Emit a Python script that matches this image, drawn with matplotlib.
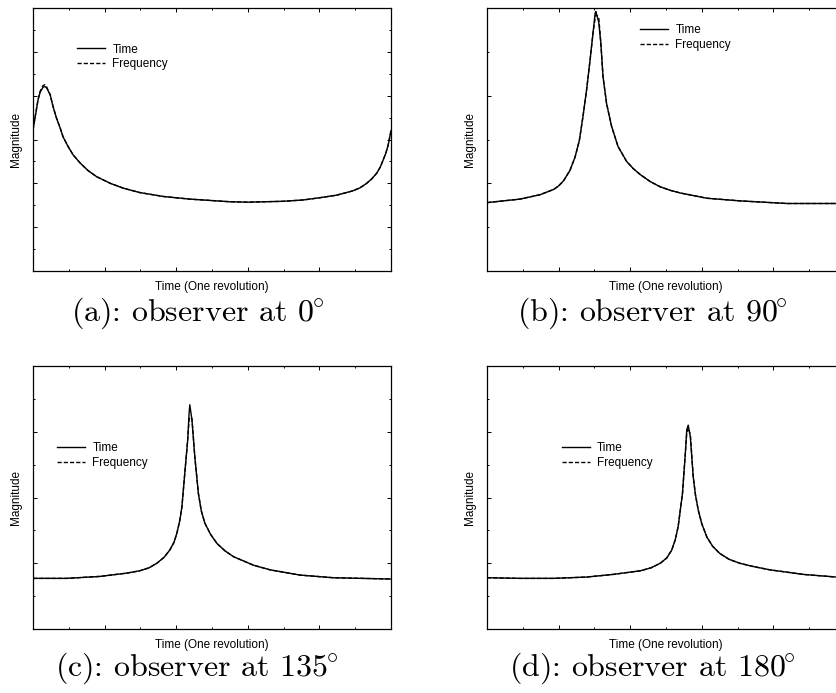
import matplotlib
matplotlib.use("Agg")
import matplotlib.pyplot as plt
from matplotlib.ticker import MultipleLocator

plt.rcParams['font.family'] = ['Liberation Sans', 'DejaVu Sans']
plt.rcParams['mathtext.fontset'] = 'cm'

# values (x: one revolution, 0..5 ; y: magnitude)
x_a = [0.00, 0.07, 0.10, 0.14, 0.165, 0.19, 0.24, 0.28, 0.33, 0.38, 0.42, 0.49, 0.56, 0.66, 0.77,
       0.89, 1.08, 1.26, 1.49, 1.82, 2.19, 2.75, 3.00, 3.49, 3.77, 4.00, 4.24, 4.47, 4.57, 4.66,
       4.73, 4.80, 4.85, 4.89, 4.93, 4.96, 5.00]
time_a = [3.22, 3.90, 4.08, 4.19, 4.21, 4.18, 4.02, 3.75, 3.48, 3.26, 3.06, 2.84, 2.65, 2.46, 2.29,
          2.15, 2.00, 1.89, 1.79, 1.70, 1.64, 1.58, 1.57, 1.59, 1.62, 1.67, 1.73, 1.83, 1.90, 2.00,
          2.10, 2.23, 2.37, 2.53, 2.70, 2.87, 3.20]
freq_a = [3.22, 3.91, 4.10, 4.23, 4.25, 4.20, 4.02, 3.75, 3.48, 3.26, 3.06, 2.84, 2.65, 2.46, 2.29,
          2.15, 2.00, 1.89, 1.79, 1.70, 1.64, 1.58, 1.57, 1.59, 1.62, 1.67, 1.73, 1.83, 1.90, 2.00,
          2.10, 2.23, 2.37, 2.53, 2.70, 2.87, 3.20]

x_b = [0.00, 0.23, 0.46, 0.74, 0.93, 1.00, 1.07, 1.16, 1.23, 1.29, 1.34, 1.39, 1.44, 1.48, 1.51,
       1.52, 1.56, 1.59, 1.62, 1.67, 1.74, 1.83, 1.95, 2.04, 2.14, 2.28, 2.42, 2.56, 2.70, 3.07,
       3.53, 4.19, 4.88, 5.00]
time_b = [0.78, 0.80, 0.82, 0.87, 0.93, 0.97, 1.03, 1.15, 1.30, 1.49, 1.76, 2.06, 2.41, 2.71, 2.94,
          2.96, 2.84, 2.60, 2.22, 1.91, 1.65, 1.42, 1.25, 1.17, 1.10, 1.02, 0.96, 0.92, 0.89, 0.83,
          0.80, 0.77, 0.77, 0.77]
freq_b = [0.78, 0.80, 0.82, 0.87, 0.93, 0.97, 1.03, 1.15, 1.30, 1.49, 1.76, 2.06, 2.41, 2.71, 2.88,
          2.92, 2.90, 2.60, 2.22, 1.91, 1.65, 1.42, 1.25, 1.17, 1.10, 1.02, 0.96, 0.92, 0.89, 0.83,
          0.80, 0.77, 0.77, 0.77]

x_c = [0.00, 0.47, 0.94, 1.31, 1.49, 1.62, 1.73, 1.83, 1.91, 1.97, 2.01, 2.05, 2.08, 2.12, 2.16,
       2.18, 2.19, 2.22, 2.26, 2.31, 2.35, 2.40, 2.48, 2.57, 2.68, 2.80, 3.08, 3.31, 3.73, 4.19, 5.00]
time_c = [0.77, 0.77, 0.80, 0.85, 0.885, 0.93, 1.00, 1.09, 1.20, 1.32, 1.46, 1.65, 1.86, 2.37, 2.87,
          3.28, 3.41, 3.18, 2.62, 2.06, 1.80, 1.61, 1.44, 1.30, 1.19, 1.10, 0.97, 0.90, 0.82, 0.78, 0.76]
freq_c = [0.77, 0.77, 0.80, 0.85, 0.885, 0.93, 1.00, 1.09, 1.20, 1.32, 1.46, 1.65, 1.86, 2.37, 2.87,
          3.18, 3.22, 3.20, 2.62, 2.06, 1.80, 1.61, 1.44, 1.30, 1.19, 1.10, 0.97, 0.90, 0.82, 0.78, 0.76]

x_d = [0.00, 0.46, 0.93, 1.39, 1.76, 2.14, 2.29, 2.42, 2.51, 2.58, 2.63, 2.67, 2.73, 2.77, 2.79,
       2.81, 2.84, 2.88, 2.91, 2.95, 3.00, 3.07, 3.15, 3.25, 3.38, 3.53, 3.72, 3.95, 4.42, 4.88, 5.00]
time_d = [0.78, 0.77, 0.77, 0.79, 0.83, 0.885, 0.93, 1.00, 1.08, 1.20, 1.36, 1.56, 2.06, 2.67, 3.03,
          3.10, 2.92, 2.32, 2.05, 1.81, 1.60, 1.40, 1.26, 1.15, 1.06, 1.00, 0.95, 0.90, 0.83, 0.79, 0.78]
freq_d = [0.78, 0.77, 0.77, 0.79, 0.83, 0.885, 0.93, 1.00, 1.08, 1.20, 1.36, 1.56, 2.06, 2.67, 2.98,
          3.06, 2.96, 2.32, 2.05, 1.81, 1.60, 1.40, 1.26, 1.15, 1.06, 1.00, 0.95, 0.90, 0.83, 0.79, 0.78]

captions = [r"(a): observer at $0^{\!\!\circ}$", r"(b): observer at $90^{\!\!\circ}$",
            r"(c): observer at $135^{\!\!\circ}$", r"(d): observer at $180^{\!\!\circ}$"]
y_tops = [6, 3, 4, 4]

W, H = 837.0, 693.0
fig = plt.figure(figsize=(W / 100, H / 100), dpi=100)

# axes boxes in pixels: left, top
boxes = [(33, 8), (487, 8), (33, 366), (487, 366)]
aw, ah = 358.0, 263.0
legend_pos = [(0.123, 0.865), (0.427, 0.94), (0.067, 0.712), (0.209, 0.712)]
caption_pos = [(198, 313), (652, 313), (197, 668), (652, 668)]

panels = [(x_a, time_a, freq_a), (x_b, time_b, freq_b), (x_c, time_c, freq_c), (x_d, time_d, freq_d)]

for i in range(4):
    left, top = boxes[i]
    ax = fig.add_axes([left / W, (H - top - ah) / H, aw / W, ah / H])
    xs, t, f = panels[i]
    ax.plot(xs, t, color='black', lw=1.0, label='Time')
    ax.plot(xs, f, color='black', lw=1.0, dashes=(3, 1.5), label='Frequency')
    ax.set_xlim(0, 5)
    ax.set_ylim(0, y_tops[i])
    ax.xaxis.set_major_locator(MultipleLocator(1))
    ax.xaxis.set_minor_locator(MultipleLocator(0.5))
    ax.yaxis.set_major_locator(MultipleLocator(1))
    ax.yaxis.set_minor_locator(MultipleLocator(0.5))
    ax.tick_params(which='both', direction='in', top=True, right=True,
                   labelbottom=False, labelleft=False, width=0.7)
    ax.tick_params(which='major', length=2.6)
    ax.tick_params(which='minor', length=1.5)
    for sp in ax.spines.values():
        sp.set_linewidth(0.9)
    ax.set_xlabel('Time (One revolution)', fontsize=8.5)
    ax.xaxis.set_label_coords(0.5, -16 / ah)
    ax.xaxis.label.set_va('center')
    ax.set_ylabel('Magnitude', fontsize=8.5)
    ax.yaxis.set_label_coords(-17 / aw, 0.5)
    ax.yaxis.label.set_va('center')
    ax.legend(loc='upper left', bbox_to_anchor=legend_pos[i], frameon=False,
              fontsize=8.5, handlelength=2.4, handletextpad=0.6,
              labelspacing=0.25, borderpad=0, borderaxespad=0)
    cx, cy = caption_pos[i]
    fig.text(cx / W, 1 - cy / H, captions[i], family='cmr10', fontsize=23,
             ha='center', va='center')

fig.savefig('out.png', dpi=100)
